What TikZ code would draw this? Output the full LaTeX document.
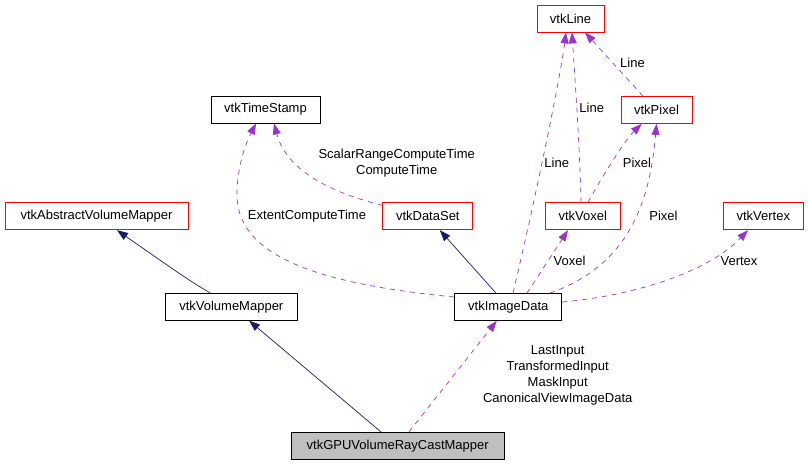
\documentclass[tikz,border=0pt]{standalone}
\usepackage{fontspec}
\setmainfont{Liberation Sans}
\usetikzlibrary{arrows.meta}
\definecolor{edgenavy}{HTML}{191970}
\definecolor{edgepurple}{HTML}{9A32CD}
\definecolor{boxred}{HTML}{FF0000}
\definecolor{boxgray}{HTML}{BFBFBF}
\tikzset{
  cls/.style={draw=black, line width=0.8pt, inner sep=0pt, minimum height=27pt, font=\fontsize{13}{15}\selectfont},
  redcls/.style={cls, draw=boxred},
  inh/.style={draw=edgenavy, line width=0.7pt, -{Triangle[length=11pt,width=8pt]}},
  dep/.style={draw=edgepurple, line width=0.7pt, dash pattern=on 5pt off 5pt, -{Triangle[length=11pt,width=8pt]}},
  lbl/.style={inner sep=0pt, font=\fontsize{13}{16}\selectfont, align=center}
}
\begin{document}
\begin{tikzpicture}[x=1pt,y=-1pt]
\useasboundingbox (0,0) rectangle (808,464);
% nodes
\node[redcls, minimum width=67pt] (line) at (570.5,18.5) {vtkLine};
\node[cls, minimum width=109pt] (ts) at (265.5,109.5) {vtkTimeStamp};
\node[redcls, minimum width=71pt] (pix) at (656.5,110) {vtkPixel};
\node[redcls, minimum width=183pt] (avm) at (96.5,216.3) {vtkAbstractVolumeMapper};
\node[redcls, minimum width=90pt] (ds) at (427.8,216.3) {vtkDataSet};
\node[redcls, minimum width=75pt] (vox) at (582.7,216.3) {vtkVoxel};
\node[redcls, minimum width=80pt] (vtx) at (763.3,216.3) {vtkVertex};
\node[cls, minimum width=132pt] (vm) at (231.3,306.7) {vtkVolumeMapper};
\node[cls, minimum width=107pt] (id) at (508.3,307) {vtkImageData};
\node[cls, fill=boxgray, minimum width=213pt] (gpu) at (397.7,445.8) {vtkGPUVolumeRayCastMapper};
% inheritance
\draw[inh] ([xshift=-21.3pt]vm.north) .. controls (190,281) .. ([xshift=20.5pt]avm.south);
\draw[inh] ([xshift=-16.7pt]gpu.north) -- ([xshift=17.7pt]vm.south);
\draw[inh] ([xshift=-12.3pt]id.north) -- ([xshift=12pt]ds.south);
% usage
\draw[dep] ([xshift=11.3pt]gpu.north) -- ([xshift=-11.6pt]id.south);
\draw[dep] ([yshift=10pt]id.west) .. controls (330,285) and (237,260) .. (237,195) .. controls (237,160) and (250,135) .. ([xshift=-9.5pt]ts.south);
\draw[dep] ([yshift=11pt]ds.west) .. controls (320,190) and (285,165) .. ([xshift=8.5pt]ts.south);
\draw[dep] ([xshift=4.7pt]id.north) .. controls (535,200) and (560,80) .. ([xshift=-4.5pt]line.south);
\draw[dep] ([xshift=-1.7pt]vox.north) .. controls (580,150) and (575,80) .. ([xshift=1.5pt]line.south);
\draw[dep] ([xshift=-13.5pt]pix.north) -- ([xshift=14.5pt]line.south);
\draw[dep] ([xshift=5.3pt]vox.north) .. controls (600,180) and (625,140) .. ([xshift=-14.8pt]pix.south);
\draw[dep] ([xshift=41.7pt]id.north) .. controls (630,265) and (650,200) .. (pix.south);
\draw[dep] ([xshift=18.7pt]id.north) -- ([xshift=-14.7pt]vox.south);
\draw[dep] ([yshift=5pt]id.east) .. controls (640,295) and (710,270) .. ([xshift=-15.3pt]vtx.south);
% labels
\node[lbl] (l1) at (557.7,375.5) {LastInput\\TransformedInput\\MaskInput\\CanonicalViewImageData};
\node[lbl] (l2) at (307,215.7) {ExtentComputeTime};
\node[lbl] (l3) at (396.7,163) {ScalarRangeComputeTime\\ComputeTime};
\node[lbl] (l4) at (556.7,162.7) {Line};
\node[lbl] (l5) at (591.7,108.3) {Line};
\node[lbl] (l6) at (632.5,63.3) {Line};
\node[lbl] (l7) at (637,162.7) {Pixel};
\node[lbl] (l8) at (663.5,215.7) {Pixel};
\node[lbl] (l9) at (569.5,260.7) {Voxel};
\node[lbl] (l10) at (739,260.7) {Vertex};
\end{tikzpicture}
\end{document}
